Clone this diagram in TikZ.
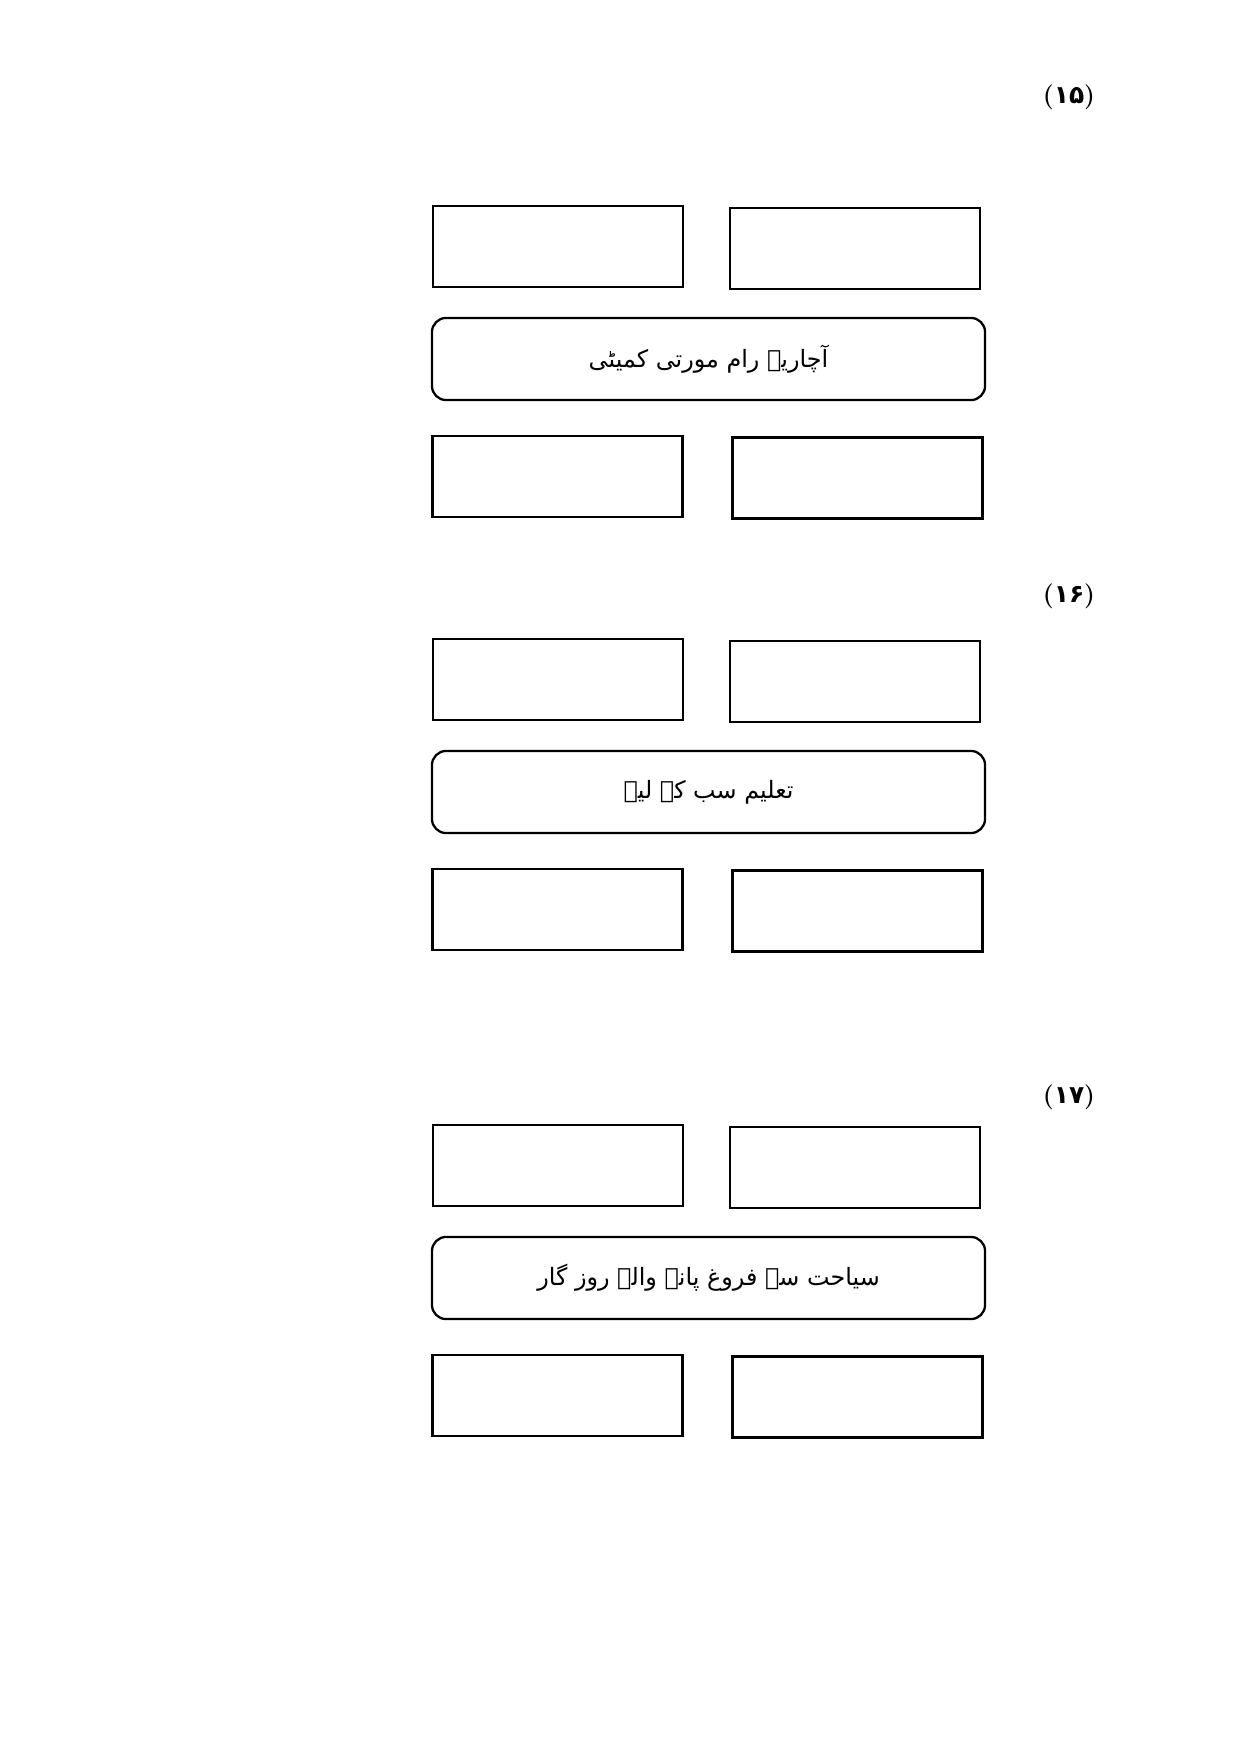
\documentclass[tikz,border=0pt]{standalone}
\usepackage{fontspec}
\usepackage{tikz}
\usetikzlibrary{positioning}
\TeXXeTstate=1
\newfontfamily\urdufont[Script=Arabic]{DejaVu Sans}

\tikzset{
  blank/.style={draw=black,line width=1.3pt,minimum width=4.23cm,minimum height=1.37cm,inner sep=0pt,outer sep=0pt},
  topic/.style={draw=black,line width=1.1pt,rounded corners=0.24cm,minimum width=9.36cm,minimum height=1.39cm,inner sep=0pt,font=\urdufont\fontsize{11.5}{14}\selectfont},
  qnum/.style={font=\bfseries\large}
}

\begin{document}
\begin{tikzpicture}[x=0.016922cm,y=-0.016922cm]
\useasboundingbox (0,0) rectangle (1241,1754);
% one group per question: number, two boxes, topic, two boxes
\foreach \n/\gy/\ny/\qno/\txt in {1/206/97/۱۵/{آچاریہ رام مورتی کمیٹی},
                                   2/639/596/۱۶/{تعلیم سب کے لیے},
                                   3/1125/1097/۱۷/{سیاحت سے فروغ پانے والے روز گار}}{
 \node[qnum] (num\n) at (1069,\ny) {({\urdufont\bfseries \qno})};
 \begin{scope}[shift={(0,\gy)}]
  \node[blank] (tl\n) at (558,40.5) {};
  \node[blank] (tr\n) at (855,42.5) {};
  \node[topic] (topic\n) at (708.5,153) {\raisebox{-2.5pt}{\beginR\txt\endR}};
  \node[blank] (bl\n) at (557.5,270.5) {};
  \node[blank] (br\n) at (857.5,272) {};
 \end{scope}
}
\end{tikzpicture}
\end{document}
